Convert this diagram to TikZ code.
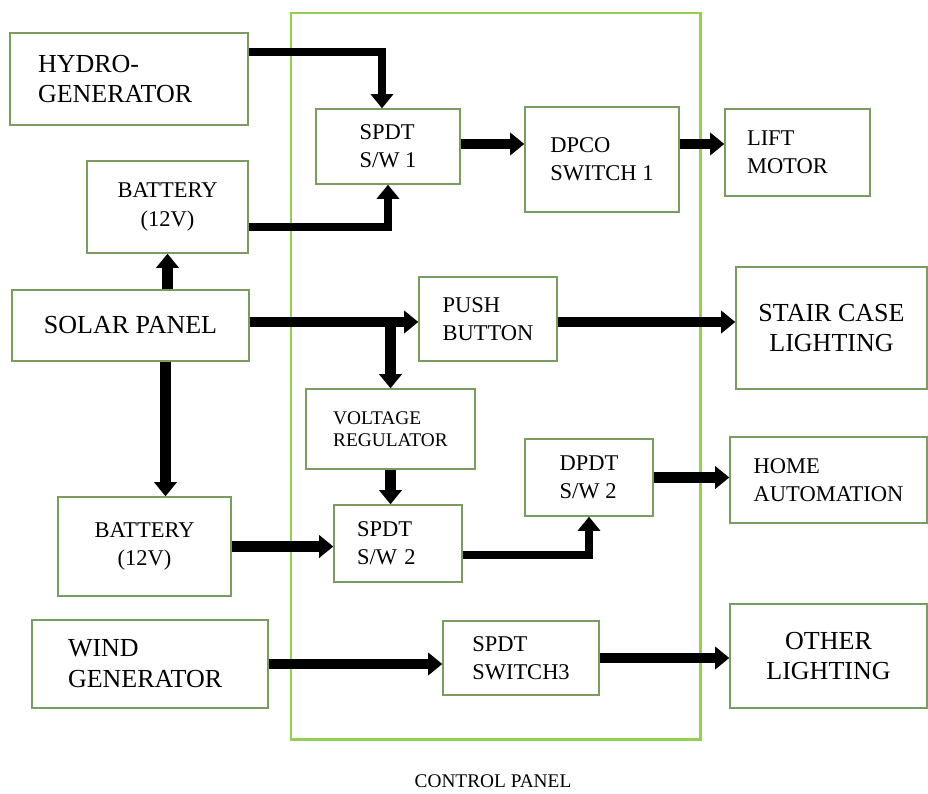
\documentclass[tikz,border=0pt]{standalone}
\usepackage{fontspec}
\setmainfont{Liberation Serif}
\usetikzlibrary{arrows.meta}
\definecolor{boxline}{RGB}{122,156,96}
\definecolor{panelline}{RGB}{146,208,80}
\begin{document}
\begin{tikzpicture}[>={Triangle[length=8pt,width=12.5pt]},
  blk/.style={draw=boxline, line width=0.8pt, align=left, inner sep=0pt, font=\fontsize{12.8}{16}\selectfont},
  bigblk/.style={blk, font=\fontsize{14.8}{17.6}\selectfont},
  smallblk/.style={blk, font=\fontsize{11}{12.8}\selectfont},
  flow/.style={->, line width=4pt},
  fatflow/.style={->, line width=6pt}]
  \useasboundingbox (0,0) rectangle (18.56,-15.88);
  % control panel frame
  \node[draw=panelline, line width=1.7pt, minimum width=8.18cm, minimum height=14.52cm] (cp) at (9.91,-7.52) {};
  \node[font=\fontsize{11}{13}\selectfont] (cplabel) at (9.86,-15.63) {CONTROL PANEL};
  % sources (left column)
  \node[bigblk, inner xsep=0.56cm, text width=3.64cm, minimum width=4.76cm, minimum height=1.84cm] (hydro) at (2.58,-1.58) {HYDRO-\\GENERATOR};
  \node[blk, align=center, minimum width=3.22cm, minimum height=1.84cm] (bat1) at (3.35,-4.14) {BATTERY\\(12V)};
  \node[bigblk, minimum width=4.74cm, minimum height=1.42cm] (solar) at (2.61,-6.51) {SOLAR PANEL};
  \node[blk, align=center, minimum width=3.46cm, minimum height=1.98cm] (bat2) at (2.89,-10.93) {BATTERY\\(12V)};
  \node[bigblk, inner xsep=0.72cm, text width=3.28cm, minimum width=4.72cm, minimum height=1.76cm] (wind) at (3.00,-13.28) {WIND\\GENERATOR};
  % switches inside the control panel
  \node[blk, minimum width=2.88cm, minimum height=1.50cm] (sw1) at (7.76,-2.93) {SPDT\\S/W 1};
  \node[blk, minimum width=3.08cm, minimum height=2.10cm] (dpco) at (12.04,-3.19) {DPCO\\SWITCH 1};
  \node[blk, minimum width=2.76cm, minimum height=1.68cm] (push) at (9.76,-6.38) {PUSH\\BUTTON};
  \node[smallblk, minimum width=3.38cm, minimum height=1.60cm] (vreg) at (7.81,-8.58) {VOLTAGE\\REGULATOR};
  \node[blk, inner xsep=0.46cm, text width=1.64cm, minimum width=2.56cm, minimum height=1.54cm] (sw2) at (7.96,-10.87) {SPDT\\S/W 2};
  \node[blk, minimum width=2.56cm, minimum height=1.54cm] (dpdt) at (11.78,-9.55) {DPDT\\S/W 2};
  \node[blk, minimum width=3.12cm, minimum height=1.48cm] (sw3) at (10.42,-13.16) {SPDT\\SWITCH3};
  % loads (right column)
  \node[blk, inner xsep=0.44cm, text width=2.02cm, minimum width=2.90cm, minimum height=1.74cm] (lift) at (15.95,-3.05) {LIFT\\MOTOR};
  \node[bigblk, align=center, minimum width=3.82cm, minimum height=2.44cm] (stair) at (16.63,-6.56) {STAIR CASE\\LIGHTING};
  \node[blk, minimum width=3.94cm, minimum height=1.72cm] (home) at (16.57,-9.60) {HOME\\AUTOMATION};
  \node[bigblk, align=center, minimum width=3.94cm, minimum height=2.08cm] (other) at (16.57,-13.12) {OTHER\\LIGHTING};
  % upper branch
  \draw[flow] ([yshift=0.54cm]hydro.east) -| ([xshift=-0.12cm]sw1.north);
  \draw[flow] ([yshift=-0.4cm]bat1.east) -| (sw1.south);
  \draw[fatflow] (solar.north -| bat1.south) -- (bat1.south);
  \draw[fatflow] ([yshift=0.05cm]sw1.east) -- ([yshift=0.05cm]sw1.east -| dpco.west);
  \draw[fatflow] ([yshift=0.05cm]sw1.east -| dpco.east) -- ([yshift=0.05cm]sw1.east -| lift.west);
  % solar panel outputs
  \draw[fatflow] ([yshift=0.07cm]solar.east) -- ([yshift=0.07cm]solar.east -| push.west);
  \draw[fatflow] ([yshift=0.07cm]solar.east -| vreg.north) -- (vreg.north);
  \draw[fatflow] ([yshift=-0.06cm]push.east) -- ([yshift=-0.06cm]push.east -| stair.west);
  \draw[fatflow] ([xshift=0.7cm]solar.south) -- ([xshift=0.7cm]solar.south |- bat2.north);
  % lower branch
  \draw[fatflow] (vreg.south) -- (vreg.south |- sw2.north);
  \draw[fatflow] (bat2.east) -- (bat2.east -| sw2.west);
  \draw[flow] ([yshift=-0.23cm]sw2.east) -| (dpdt.south);
  \draw[fatflow] (dpdt.east) -- (dpdt.east -| home.west);
  \draw[fatflow] (wind.east) -- (wind.east -| sw3.west);
  \draw[fatflow] (sw3.east) -- (sw3.east -| other.west);
\end{tikzpicture}
\end{document}
